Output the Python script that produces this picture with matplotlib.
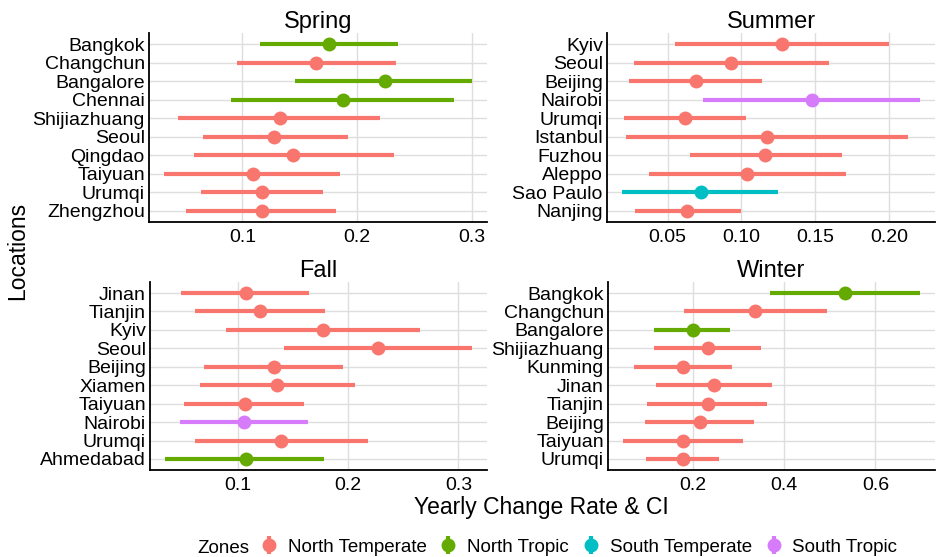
import numpy as np
import matplotlib.pyplot as plt
from matplotlib.lines import Line2D

plt.rcParams['font.family'] = ['Liberation Sans', 'DejaVu Sans']

zone_colors = {'North Temperate': '#F8766D', 'North Tropic': '#64AA00',
               'South Temperate': '#00BFC4', 'South Tropic': '#D67CFA'}

# Spring
spring_city = ['Bangkok', 'Changchun', 'Bangalore', 'Chennai', 'Shijiazhuang',
               'Seoul', 'Qingdao', 'Taiyuan', 'Urumqi', 'Zhengzhou']
spring_zone = ['North Tropic', 'North Temperate', 'North Tropic', 'North Tropic',
               'North Temperate', 'North Temperate', 'North Temperate',
               'North Temperate', 'North Temperate', 'North Temperate']
spring_est = [0.176, 0.164, 0.224, 0.188, 0.133, 0.128, 0.144, 0.109, 0.117, 0.117]
spring_lo = [0.115, 0.095, 0.146, 0.090, 0.044, 0.066, 0.058, 0.032, 0.064, 0.051]
spring_hi = [0.236, 0.234, 0.300, 0.285, 0.220, 0.192, 0.232, 0.185, 0.170, 0.182]

# Summer
summer_city = ['Kyiv', 'Seoul', 'Beijing', 'Nairobi', 'Urumqi', 'Istanbul',
               'Fuzhou', 'Aleppo', 'Sao Paulo', 'Nanjing']
summer_zone = ['North Temperate', 'North Temperate', 'North Temperate', 'South Tropic',
               'North Temperate', 'North Temperate', 'North Temperate',
               'North Temperate', 'South Temperate', 'North Temperate']
summer_est = [0.1275, 0.093, 0.069, 0.148, 0.062, 0.117, 0.116, 0.104, 0.0725, 0.063]
summer_lo = [0.055, 0.027, 0.024, 0.074, 0.0205, 0.022, 0.065, 0.0375, 0.019, 0.028]
summer_hi = [0.200, 0.159, 0.114, 0.221, 0.103, 0.213, 0.168, 0.171, 0.125, 0.0995]

# Fall
fall_city = ['Jinan', 'Tianjin', 'Kyiv', 'Seoul', 'Beijing', 'Xiamen',
             'Taiyuan', 'Nairobi', 'Urumqi', 'Ahmedabad']
fall_zone = ['North Temperate'] * 7 + ['South Tropic', 'North Temperate', 'North Tropic']
fall_est = [0.107, 0.120, 0.177, 0.227, 0.1325, 0.1355, 0.106, 0.1054, 0.139, 0.107]
fall_lo = [0.0486, 0.0606, 0.089, 0.142, 0.069, 0.065, 0.051, 0.047, 0.0606, 0.034]
fall_hi = [0.164, 0.179, 0.265, 0.312, 0.1956, 0.206, 0.160, 0.163, 0.218, 0.178]

# Winter
winter_city = ['Bangkok', 'Changchun', 'Bangalore', 'Shijiazhuang', 'Kunming',
               'Jinan', 'Tianjin', 'Beijing', 'Taiyuan', 'Urumqi']
winter_zone = ['North Tropic', 'North Temperate', 'North Tropic'] + ['North Temperate'] * 7
winter_est = [0.534, 0.336, 0.200, 0.233, 0.179, 0.247, 0.233, 0.2155, 0.179, 0.179]
winter_lo = [0.370, 0.181, 0.116, 0.1145, 0.071, 0.120, 0.100, 0.096, 0.047, 0.098]
winter_hi = [0.698, 0.495, 0.281, 0.3505, 0.285, 0.373, 0.363, 0.335, 0.311, 0.2565]

panels = [
    ('Spring', spring_city, spring_zone, spring_est, spring_lo, spring_hi,
     [0.1, 0.2, 0.3], ['0.1', '0.2', '0.3'], [0.1592, 0.6014, 0.3611, 0.3393]),
    ('Summer', summer_city, summer_zone, summer_est, summer_lo, summer_hi,
     [0.05, 0.10, 0.15, 0.20], ['0.05', '0.10', '0.15', '0.20'], [0.6485, 0.6014, 0.3504, 0.3393]),
    ('Fall', fall_city, fall_zone, fall_est, fall_lo, fall_hi,
     [0.1, 0.2, 0.3], ['0.1', '0.2', '0.3'], [0.1603, 0.1562, 0.3600, 0.3375]),
    ('Winter', winter_city, winter_zone, winter_est, winter_lo, winter_hi,
     [0.2, 0.4, 0.6], ['0.2', '0.4', '0.6'], [0.6496, 0.1562, 0.3493, 0.3375]),
]

fig = plt.figure(figsize=(9.36, 5.57), dpi=100)

for title, city, zone, est, lo, hi, ticks, tlabels, pos in panels:
    ax = fig.add_axes(pos)
    n = len(city)
    ypos = np.arange(n)[::-1]
    for i in range(n):
        c = zone_colors[zone[i]]
        ax.plot([lo[i], hi[i]], [ypos[i], ypos[i]], color=c, lw=3, solid_capstyle='butt', zorder=3)
        ax.plot(est[i], ypos[i], 'o', color=c, ms=9, zorder=4)
    rng = max(hi) - min(lo)
    ax.set_xlim(min(lo) - 0.05 * rng, max(hi) + 0.05 * rng)
    ax.set_ylim(-0.6, n - 0.4)
    ax.set_yticks(ypos)
    ax.set_yticklabels(city)
    ax.set_xticks(ticks)
    ax.set_xticklabels(tlabels)
    ax.tick_params(length=0, labelsize=14, colors='black', pad=3)
    ax.tick_params(axis='x', pad=5)
    ax.grid(True, color='#DEDEDE', lw=1)
    ax.set_axisbelow(True)
    for s in ['top', 'right']:
        ax.spines[s].set_visible(False)
    for s in ['left', 'bottom']:
        ax.spines[s].set_linewidth(1.3)
        ax.spines[s].set_color('black')
    ax.set_title(title, fontsize=17, pad=2)

fig.text(0.019, 0.55, 'Locations', rotation=90, fontsize=16.5, ha='center', va='center')
fig.text(0.578, 0.088, 'Yearly Change Rate & CI', fontsize=16.5, ha='center', va='center')

fig.text(0.2105, 0.0155, 'Zones', fontsize=13.5, ha='left', va='center')
handles = []
for z, c in zone_colors.items():
    h1 = Line2D([], [], color=c, marker='o', ms=9, lw=0)
    h2 = Line2D([], [], color=c, marker='|', ms=13, mew=3, lw=0)
    handles.append((h2, h1))
fig.legend(handles, list(zone_colors.keys()), loc='center', bbox_to_anchor=(0.619, 0.018),
           ncol=4, frameon=False, fontsize=13.5, handlelength=0.8, handletextpad=0.6,
           columnspacing=0.77)

fig.savefig('out.png', dpi=100)
